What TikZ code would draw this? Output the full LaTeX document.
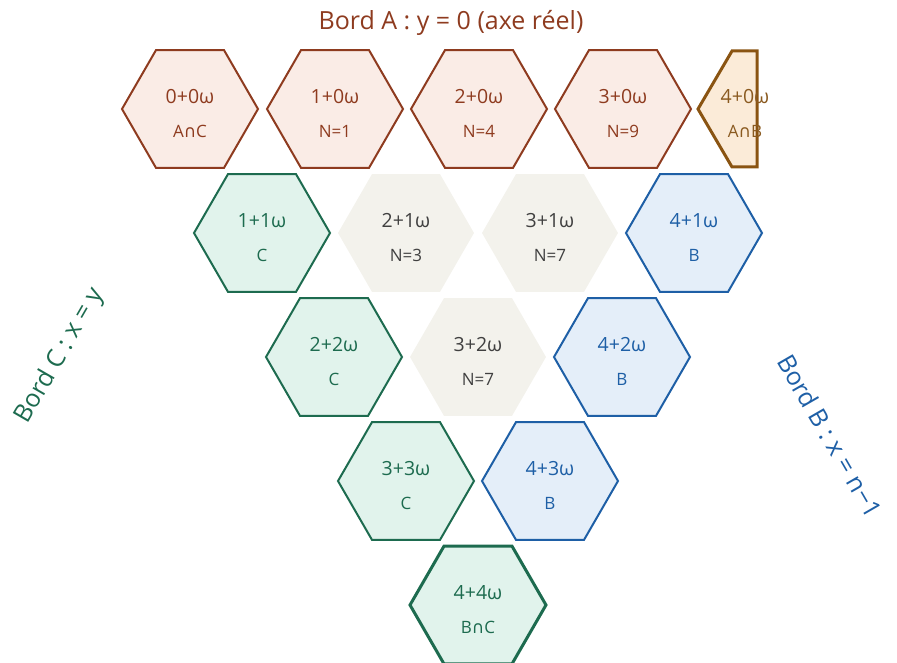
\documentclass[tikz,border=0pt]{standalone}
\usepackage{fontspec}
\setmainfont{Open Sans}
\newfontfamily\symfont{DejaVu Sans}
\usetikzlibrary{shapes.geometric}

\definecolor{edgeA}{HTML}{8E3B1F}
\definecolor{fillA}{HTML}{FAECE6}
\definecolor{edgeAB}{HTML}{8A5412}
\definecolor{fillAB}{HTML}{FBEBD8}
\definecolor{textAB}{HTML}{8A5A20}
\definecolor{edgeC}{HTML}{1D6B4F}
\definecolor{fillC}{HTML}{E1F3EC}
\definecolor{edgeB}{HTML}{1E5FA6}
\definecolor{fillB}{HTML}{E4EEF9}
\definecolor{fillN}{HTML}{F3F2EC}
\definecolor{textN}{HTML}{404040}

\newcommand\capsym{{\symfont ∩}}

\tikzset{
  hexbase/.style={regular polygon, regular polygon sides=6, minimum size=136pt,
    inner sep=0pt, outer sep=0pt},
  hexA/.style={hexbase, draw=edgeA, fill=fillA, line width=2pt},
  hexC/.style={hexbase, draw=edgeC, fill=fillC, line width=2pt},
  hexCC/.style={hexbase, draw=edgeC, fill=fillC, line width=3pt},
  hexB/.style={hexbase, draw=edgeB, fill=fillB, line width=2pt},
  hexN/.style={hexbase, fill=fillN},
  mainlbl/.style={font=\fontsize{19.5}{19.5}\selectfont, inner sep=0pt},
  sublbl/.style={font=\fontsize{17}{17}\selectfont, inner sep=0pt},
  bordlbl/.style={font=\fontsize{25}{25}\selectfont, inner sep=0pt},
}

% one hexagonal cell: name, x, y, style, text colour, first line, second line
\newcommand\hexcell[7]{%
  \node[#4] (#1) at (#2,#3) {};
  \node[mainlbl, text=#5] (#1-t) at ([yshift=12pt]#1.center) {#6};
  \node[sublbl, text=#5] (#1-s) at ([yshift=-22pt]#1.center) {#7};
}

\begin{document}
\begin{tikzpicture}[x=1pt, y=-1pt]
\useasboundingbox (0,0) rectangle (897,663);

% row 0 : edge A
\hexcell{h00}{190}{109}{hexA}{edgeA}{0+0ω}{A\capsym C}
\hexcell{h10}{335}{109}{hexA}{edgeA}{1+0ω}{N=1}
\hexcell{h20}{479}{109}{hexA}{edgeA}{2+0ω}{N=4}
\hexcell{h30}{623}{109}{hexA}{edgeA}{3+0ω}{N=9}

% truncated corner cell 4+0w
\draw[edgeAB, fill=fillAB, line width=3pt, line join=miter]
  (698,109) -- (732,51) -- (757,51) -- (757,167) -- (732,167) -- cycle;
\node[mainlbl, text=textAB] (h40-t) at (745,97) {4+0ω};
\node[sublbl, text=textAB] (h40-s) at (745,131) {A\capsym B};

% row 1
\hexcell{h11}{262}{233}{hexC}{edgeC}{1+1ω}{C}
\hexcell{h21}{406}{233}{hexN}{textN}{2+1ω}{N=3}
\hexcell{h31}{550}{233}{hexN}{textN}{3+1ω}{N=7}
\hexcell{h41}{694}{233}{hexB}{edgeB}{4+1ω}{B}

% row 2
\hexcell{h22}{334}{357}{hexC}{edgeC}{2+2ω}{C}
\hexcell{h32}{478}{357}{hexN}{textN}{3+2ω}{N=7}
\hexcell{h42}{622}{357}{hexB}{edgeB}{4+2ω}{B}

% row 3
\hexcell{h33}{406}{481}{hexC}{edgeC}{3+3ω}{C}
\hexcell{h43}{550}{481}{hexB}{edgeB}{4+3ω}{B}

% row 4
\hexcell{h44}{478}{605}{hexCC}{edgeC}{4+4ω}{B\capsym C}

% edge labels
\node[bordlbl, text=edgeA, anchor=base] (bordA) at (451,29.5) {Bord A : y = 0 (axe réel)};
\node[bordlbl, text=edgeC, rotate=60] (bordC) at (60,356) {Bord C : x = y};
\node[bordlbl, text=edgeB, rotate=-60] (bordB) at (830,436) {Bord B : x = n−1};
\end{tikzpicture}
\end{document}
